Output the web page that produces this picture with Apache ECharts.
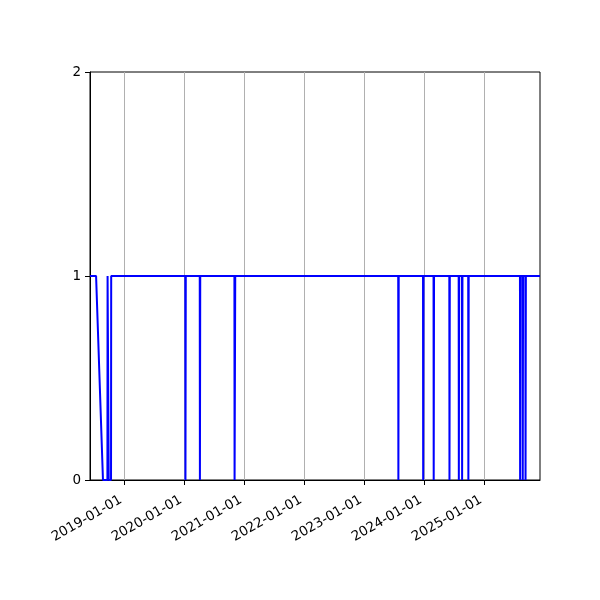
<!DOCTYPE html>
<html>
<head>
<meta charset="utf-8">
<script src="https://cdn.jsdelivr.net/npm/echarts@6/dist/echarts.min.js"></script>
<style>
html,body{margin:0;padding:0;background:#fff;}
#c{width:600px;height:600px;}
</style>
</head>
<body>
<div id="c"></div>
<script>
// Change points of the status series (date, value)
const dates = [
  '2018-06-06','2018-07-13','2018-08-24','2018-09-20','2018-09-21','2018-09-27','2018-09-28','2018-10-12','2018-10-13',
  '2020-01-07','2020-01-08','2020-01-10',
  '2020-04-04','2020-04-05','2020-04-07',
  '2020-11-01','2020-11-02','2020-11-05','2020-11-06',
  '2023-07-26','2023-07-27','2023-07-29',
  '2023-12-24','2023-12-25','2023-12-27',
  '2024-02-26','2024-02-27','2024-02-29',
  '2024-06-01','2024-06-02','2024-06-04',
  '2024-07-28','2024-07-29','2024-07-31',
  '2024-08-17','2024-08-18','2024-08-20',
  '2024-09-24','2024-09-25','2024-09-27',
  '2025-08-05','2025-08-06','2025-08-08',
  '2025-08-21','2025-08-22','2025-08-24',
  '2025-09-07','2025-09-08','2025-09-10',
  '2025-12-05'
];
const values = [
  1,1,0,0,1,1,0,0,1,
  1,0,1,
  1,0,1,
  1,0,0,1,
  1,0,1,
  1,0,1,
  1,0,1,
  1,0,1,
  1,0,1,
  1,0,1,
  1,0,1,
  1,0,1,
  1,0,1,
  1,0,1,
  1
];
const xTicks = ['2019-01-01','2020-01-01','2021-01-01','2022-01-01','2023-01-01','2024-01-01','2025-01-01'];
const yTicks = [0, 1, 2];
const xStart = '2018-06-06';
const xEnd = '2025-12-05';

const toTs = s => { const p = s.split('-').map(Number); return Date.UTC(p[0], p[1]-1, p[2]); };
const pad = n => (n < 10 ? '0' : '') + n;
const fmt = ts => { const d = new Date(ts); return d.getUTCFullYear() + '-' + pad(d.getUTCMonth()+1) + '-' + pad(d.getUTCDate()); };

const chart = echarts.init(document.getElementById('c'), null, {renderer: 'canvas'});
chart.setOption({
  animation: false,
  backgroundColor: '#ffffff',
  grid: {left: 90, right: 60, top: 72, bottom: 120, show: true, borderColor: '#000', borderWidth: 1, backgroundColor: 'transparent'},
  xAxis: {
    type: 'value',
    min: toTs(xStart),
    max: toTs(xEnd),
    axisLine: {show: true, onZero: false, lineStyle: {color: '#000', width: 1}},
    axisTick: {show: true, length: 5, lineStyle: {color: '#000', width: 1}, customValues: xTicks.map(toTs)},
    axisLabel: {
      customValues: xTicks.map(toTs),
      rotate: 30, margin: 17, color: '#000',
      padding: [0, 4, 0, 0],
      fontFamily: 'DejaVu Sans', fontSize: 13.5,
      showMinLabel: true, showMaxLabel: true,
      formatter: v => fmt(v)
    },
    splitLine: {show: true, lineStyle: {color: '#b0b0b0', width: 1}},
    minorTick: {show: false}
  },
  yAxis: {
    type: 'value',
    min: 0, max: 2, interval: 1,
    axisLine: {show: true, lineStyle: {color: '#000', width: 1}},
    axisTick: {show: true, length: 5, lineStyle: {color: '#000', width: 1}, customValues: yTicks},
    axisLabel: {customValues: yTicks, color: '#000', fontFamily: 'DejaVu Sans', fontSize: 13.5, margin: 9, formatter: v => String(v)},
    splitLine: {show: false}
  },
  series: [{
    type: 'line',
    data: dates.map((d, i) => [toTs(d), values[i]]),
    showSymbol: false,
    symbol: 'none',
    lineStyle: {color: '#0000ff', width: 2},
    itemStyle: {color: '#0000ff'}
  }]
});
</script>
</body>
</html>
